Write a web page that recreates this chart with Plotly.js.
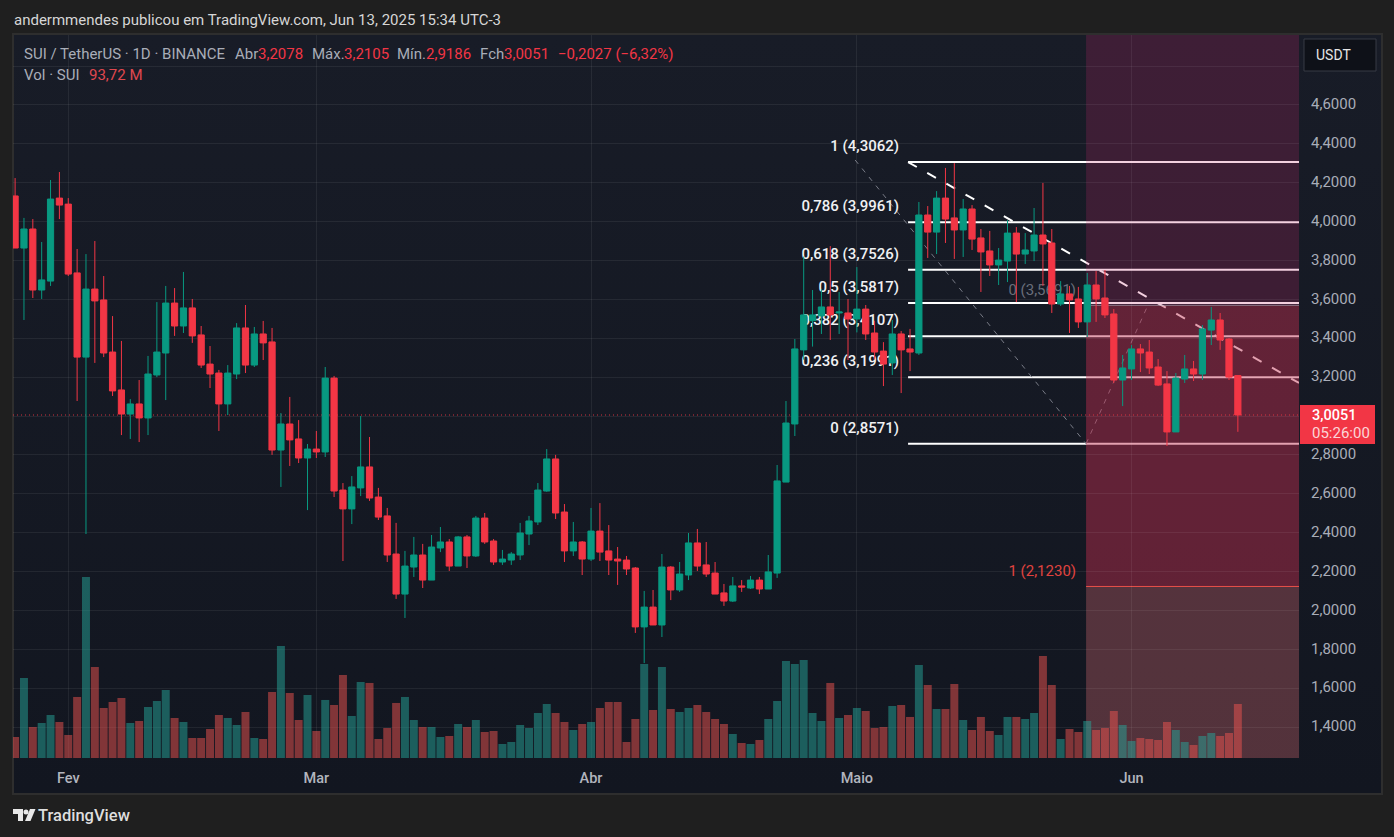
<!DOCTYPE html>
<html><head><meta charset="utf-8">
<script src="https://cdn.plot.ly/plotly-3.0.1.min.js"></script>
<style>
html,body{margin:0;padding:0;background:#1f1f1f;overflow:hidden;width:1394px;height:837px}
#frame{position:absolute;left:12px;top:33px;width:1367px;height:758px;border:2px solid #2e2e2e;background:linear-gradient(#181c27,#121620)}
#chart{position:absolute;left:0;top:0;width:1394px;height:837px}
</style></head><body>
<div id="frame"></div><div id="chart"></div>
<script>
const firstDay = Date.UTC(2025,0,26);
const opens = [4.132,3.864,3.962,3.648,3.694,4.121,4.090,3.736,3.303,3.653,3.597,3.329,3.134,3.010,3.062,2.990,3.211,3.324,3.581,3.463,
3.556,3.417,3.267,3.221,3.062,3.216,3.453,3.262,3.422,3.381,2.825,2.959,2.882,2.784,2.830,2.815,3.195,2.619,2.522,2.630,
2.738,2.583,2.486,2.290,2.084,2.223,2.285,2.156,2.321,2.352,2.228,2.378,2.280,2.475,2.357,2.249,2.259,2.285,2.393,2.455,
2.614,2.779,2.506,2.306,2.352,2.264,2.408,2.306,2.264,2.259,2.218,1.915,2.017,1.925,2.223,2.105,2.182,2.347,2.234,2.192,
2.090,2.048,2.126,2.115,2.156,2.110,2.192,2.660,2.959,3.340,3.490,3.515,3.561,3.530,3.530,3.499,3.550,3.427,3.334,3.273,
3.422,3.345,3.324,4.034,3.946,4.121,4.019,3.957,4.065,3.916,3.849,3.777,3.797,3.941,3.833,3.849,3.931,3.890,3.576,3.628,
3.602,3.484,3.674,3.607,3.525,3.185,3.242,3.345,3.329,3.252,3.165,2.918,3.190,3.242,3.216,3.442,3.494,3.396,3.2078];
const highs = [4.224,4.019,4.013,3.895,4.214,4.255,4.121,3.859,3.833,3.900,3.720,3.514,3.386,3.087,3.185,3.309,3.586,3.669,3.658,3.741,
3.602,3.463,3.360,3.237,3.262,3.478,3.571,3.458,3.489,3.453,3.015,3.098,2.979,2.856,2.923,3.252,3.206,2.655,2.691,3.000,
2.892,2.630,2.527,2.450,2.306,2.378,2.342,2.388,2.429,2.367,2.383,2.388,2.486,2.501,2.367,2.311,2.300,2.450,2.486,2.655,
2.830,2.800,2.547,2.455,2.357,2.527,2.552,2.439,2.326,2.280,2.223,2.100,2.105,2.290,2.228,2.249,2.398,2.419,2.352,2.249,
2.136,2.172,2.156,2.177,2.172,2.285,2.748,3.077,3.396,3.820,3.648,3.653,3.874,3.638,3.602,3.766,3.571,3.490,3.380,3.494,
3.437,3.448,4.101,4.080,4.157,4.276,4.301,4.116,4.085,3.962,3.952,3.864,4.008,3.972,3.941,4.070,4.199,3.962,3.694,3.669,
3.664,3.736,3.746,3.751,3.550,3.314,3.365,3.370,3.391,3.293,3.231,3.221,3.314,3.283,3.468,3.561,3.530,3.401,3.2105];
const lows = [3.864,3.494,3.607,3.602,3.669,4.013,3.720,3.077,2.393,3.273,3.303,3.103,2.902,2.882,2.866,2.902,3.200,3.082,3.412,3.427,
3.376,3.247,3.144,2.923,3.005,3.190,3.221,3.252,3.288,2.800,2.635,2.743,2.758,2.516,2.784,2.789,2.583,2.254,2.444,2.588,
2.563,2.465,2.249,2.059,1.961,2.172,2.115,2.156,2.300,2.203,2.228,2.218,2.275,2.342,2.234,2.234,2.234,2.259,2.336,2.439,
2.610,2.470,2.249,2.280,2.182,2.254,2.254,2.182,2.131,2.182,1.884,1.729,1.925,1.863,2.053,2.095,2.156,2.203,2.172,2.084,
2.023,2.043,2.095,2.110,2.084,2.110,2.167,2.660,2.897,3.290,3.357,3.422,3.391,3.422,3.288,3.430,3.391,3.290,3.154,3.211,
3.118,3.231,3.314,3.813,3.833,3.890,3.808,3.818,3.854,3.638,3.720,3.674,3.689,3.586,3.782,3.797,3.670,3.530,3.566,3.427,
3.453,3.406,3.484,3.504,3.170,3.051,3.185,3.226,3.216,3.154,2.846,2.918,3.170,3.180,3.185,3.365,3.340,3.185,2.9186];
const closes = [3.864,3.962,3.648,3.700,4.116,4.085,3.730,3.303,3.653,3.592,3.324,3.129,3.010,3.062,2.990,3.216,3.329,3.581,3.463,3.556,
3.412,3.262,3.216,3.062,3.221,3.453,3.262,3.422,3.376,2.825,2.959,2.877,2.784,2.830,2.815,3.195,2.614,2.522,2.635,2.738,
2.578,2.480,2.285,2.084,2.228,2.285,2.156,2.326,2.352,2.228,2.378,2.280,2.475,2.352,2.249,2.264,2.290,2.398,2.460,2.619,
2.779,2.501,2.306,2.352,2.264,2.408,2.300,2.259,2.254,2.213,1.915,2.017,1.925,2.223,2.105,2.187,2.347,2.228,2.187,2.084,
2.048,2.126,2.120,2.156,2.110,2.198,2.666,2.964,3.345,3.520,3.520,3.561,3.520,3.535,3.499,3.550,3.422,3.329,3.267,3.422,
3.340,3.329,4.034,3.946,4.121,4.013,3.957,4.065,3.910,3.844,3.777,3.802,3.941,3.833,3.854,3.931,3.885,3.576,3.628,3.597,
3.484,3.674,3.602,3.520,3.185,3.247,3.345,3.324,3.247,3.159,2.918,3.195,3.242,3.216,3.448,3.494,3.391,3.200,3.0051];
const volumes = [36.4,138.8,53.8,60.7,74.6,62.5,39.9,105.9,314.1,157.9,86.8,97.2,104.1,60.7,64.2,88.5,98.9,118.0,69.4,62.5,
34.7,34.7,50.3,74.6,69.4,57.3,79.8,34.7,33.0,114.5,194.4,112.8,65.9,109.3,46.9,100.7,92.0,144.0,72.9,131.9,
130.2,33.0,52.1,95.5,105.9,65.9,53.8,53.8,36.4,38.2,59.0,53.8,65.9,45.1,46.9,24.3,27.8,57.3,52.1,78.1,
93.7,78.1,62.5,48.6,59.0,62.5,86.8,97.2,97.2,27.8,67.7,163.1,83.3,157.9,85.0,79.8,86.8,92.0,79.8,67.7,
59.0,41.7,26.0,24.3,31.2,67.7,98.9,168.3,163.1,170.1,78.1,64.2,130.2,69.4,74.6,86.8,81.6,52.1,53.8,90.2,
92.0,71.2,161.4,126.7,85.0,85.0,128.4,65.9,48.6,71.2,46.9,39.9,71.2,71.2,67.7,78.1,177.0,126.7,33.0,50.3,
45.1,64.2,48.6,52.1,81.6,57.3,29.5,34.7,33.0,31.2,62.5,48.6,27.8,22.6,38.2,43.4,38.2,43.4,93.72];
const priceTicks = [1.4,1.6,1.8,2.0,2.2,2.4,2.6,2.8,3.0,3.2,3.4,3.6,3.8,4.0,4.2,4.4,4.6,4.8];
const priceLabels = ['1,4000','1,6000','1,8000','2,0000','2,2000','2,4000','2,6000','2,8000','','3,2000','3,4000','3,6000','3,8000','4,0000','4,2000','4,4000','4,6000',''];
const monthStarts = ['2025-02-01','2025-03-01','2025-04-01','2025-05-01','2025-06-01'];
const monthLabels = ['Fev','Mar','Abr','Maio','Jun'];
const fibLevels = [4.3062,3.9961,3.7526,3.5817,3.4107,3.1991,2.8571];
const fibLabels = ['1 (4,3062)','0,786 (3,9961)','0,618 (3,7526)','0,5 (3,5817)','0,382 (3,4107)','0,236 (3,1991)','0 (2,8571)'];
const legendTexts = ['SUI / TetherUS · 1D · BINANCE','Abr','3,2078','Máx.','3,2105','Mín.','2,9186','Fch','3,0051','−0,2027 (−6,32%)'];
const legendX = [23,234,257,311,343,396,425,479,503,557];
const legendRed = [false,false,true,false,true,false,true,false,true,true];

const dates = opens.map((_,i)=>new Date(firstDay+i*864e5).toISOString().slice(0,10));
const RANGE_X = ['2025-01-25 18:19','2025-06-19 21:36'];
const FONT = 'Roboto, sans-serif';
const TOP = 35, BOTTOM = 758, LEFT = 13, RIGHT = 1299;
const priceRange = [1.2407,4.9599];
const volRange = [0,1254.4];
const pxX = x => (x-LEFT)/(RIGHT-LEFT);
const pxY = y => (BOTTOM-y)/(BOTTOM-TOP);
const fibStart = '2025-05-06 18:43', fibLabelX = '2025-05-05 18:15';
const zoneStart = '2025-05-26 20:53', zoneLabelX = '2025-05-25 17:45';
const GREEN='#089981', RED='#f23645';
const labelShift = 14.8/194.4;

const traces = [
 {type:'scatter',mode:'text',x:fibLevels.map(()=>fibLabelX),y:fibLevels.map(v=>v+labelShift),text:fibLabels,
  textposition:'middle left',textfont:{family:FONT,size:15,color:'#f0f1f3',weight:500},hoverinfo:'skip',yaxis:'y'},
 {type:'scatter',mode:'text',x:[zoneLabelX],y:[2.197],text:['1 (2,1230)'],textposition:'middle left',
  textfont:{family:FONT,size:15,color:'#e0433f'},hoverinfo:'skip',yaxis:'y'},
 {type:'scatter',mode:'text',x:[zoneLabelX],y:[3.643],text:['0 (3,5691)'],textposition:'middle left',
  textfont:{family:FONT,size:15,color:'#6a6e7a'},hoverinfo:'skip',yaxis:'y'},
 {type:'bar',x:dates,y:volumes,yaxis:'y2',hoverinfo:'skip',
  marker:{color:closes.map((c,i)=>c>opens[i]?'rgba(38,166,154,.5)':'rgba(239,83,80,.5)'),line:{width:0}}},
 {type:'candlestick',x:dates,open:opens,high:highs,low:lows,close:closes,yaxis:'y3',hoverinfo:'skip',
  increasing:{line:{color:GREEN,width:1},fillcolor:GREEN},
  decreasing:{line:{color:RED,width:1},fillcolor:RED}}
];

const shapes = [];
fibLevels.forEach(v=>shapes.push({type:'line',layer:'below',xref:'x',yref:'y',x0:fibStart,x1:RANGE_X[1],y0:v,y1:v,line:{color:'#ffffff',width:2}}));
shapes.push({type:'line',layer:'below',xref:'x',yref:'y',x0:fibStart,x1:RANGE_X[1],y0:4.3062,y1:3.17,line:{color:'#ffffff',width:2,dash:'10px,12px'}});
shapes.push({type:'line',layer:'below',xref:'x',yref:'y',x0:'2025-04-30 19:12',x1:zoneStart,y0:4.317,y1:2.8571,line:{color:'#787b86',width:1,dash:'5px,6px'}});
shapes.push({type:'line',layer:'below',xref:'x',yref:'y',x0:zoneStart,x1:'2025-06-02 18:00',y0:2.8571,y1:3.56,line:{color:'#787b86',width:1,dash:'5px,6px'}});
shapes.push({type:'rect',layer:'below',xref:'x',yref:'y',x0:zoneStart,x1:RANGE_X[1],y0:3.5691,y1:priceRange[1],fillcolor:'rgba(200,40,110,.22)',line:{width:0}});
shapes.push({type:'rect',layer:'below',xref:'x',yref:'y',x0:zoneStart,x1:RANGE_X[1],y0:2.123,y1:3.5691,fillcolor:'rgba(192,46,80,.45)',line:{width:0}});
shapes.push({type:'rect',layer:'below',xref:'x',yref:'y',x0:zoneStart,x1:RANGE_X[1],y0:priceRange[0],y1:2.123,fillcolor:'rgba(207,103,113,.35)',line:{width:0}});
shapes.push({type:'line',layer:'below',xref:'x',yref:'y',x0:zoneStart,x1:RANGE_X[1],y0:2.123,y1:2.123,line:{color:'#e8504a',width:1}});
shapes.push({type:'line',layer:'below',xref:'x',yref:'y',x0:zoneStart,x1:RANGE_X[1],y0:3.5691,y1:3.5691,line:{color:'rgba(190,190,200,.55)',width:1}});
shapes.push({type:'line',layer:'below',xref:'x',yref:'y',x0:RANGE_X[0],x1:RANGE_X[1],y0:3.0051,y1:3.0051,line:{color:'rgba(242,54,69,.85)',width:1,dash:'1px,3px'}});
// price tag, currency button, logo
shapes.push({type:'rect',layer:'above',xref:'paper',yref:'paper',x0:pxX(1300),x1:pxX(1375),y0:pxY(444),y1:pxY(405),fillcolor:RED,line:{width:0}});
shapes.push({type:'rect',layer:'above',xref:'paper',yref:'paper',x0:pxX(1304),x1:pxX(1376),y0:pxY(71),y1:pxY(39),fillcolor:'#0e1118',line:{color:'#363a45',width:1}});
const pth = pts => 'M'+pts.map(p=>pxX(p[0])+','+pxY(p[1])).join(' L')+' Z';
shapes.push({type:'path',layer:'above',xref:'paper',yref:'paper',path:pth([[13,809],[23,809],[23,821],[18,821],[18,814],[13,814]]),fillcolor:'#e8e8e8',line:{width:0}});
shapes.push({type:'circle',layer:'above',xref:'paper',yref:'paper',x0:pxX(23.5),x1:pxX(28.5),y0:pxY(814.5),y1:pxY(809.5),fillcolor:'#e8e8e8',line:{width:0}});
shapes.push({type:'path',layer:'above',xref:'paper',yref:'paper',path:pth([[30,809],[35.5,809],[30.5,821],[25,821]]),fillcolor:'#e8e8e8',line:{width:0}});

const ann = (text,x,y,color,size,extra={}) => Object.assign({text,xref:'paper',yref:'paper',x:pxX(x),y:pxY(y),xanchor:'left',yanchor:'middle',showarrow:false,borderpad:0,
  font:{family:FONT,size,color}},extra);
const annotations = [
 ann('andermmendes publicou em TradingView.com, Jun 13, 2025 15:34 UTC-3',13,20,'#d6d6d6',15),
 ...legendTexts.map((t,i)=>ann(t,legendX[i],54,legendRed[i]?RED:'#a9adb8',15)),
 ann('Vol · SUI',23,75,'#a9adb8',15),
 ann('93,72 M',88,75,'#e0484f',15),
 ann('3,0051',1311,415,'#ffffff',14.5,{font:{family:FONT,size:14.5,color:'#ffffff',weight:500}}),
 ann('05:26:00',1311,433,'#fbd5d8',15),
 ann('USDT',1315,55,'#e6e6e6',14),
 ann('TradingView',37,815.5,'#dedede',16.5,{font:{family:FONT,size:16.5,color:'#dedede',weight:500}})
];

const GRID='rgba(242,242,242,.07)';
const layout = {
 width:1394,height:837,autosize:false,showlegend:false,separators:',.',
 margin:{l:LEFT,r:1394-RIGHT,t:TOP,b:837-BOTTOM,pad:0},
 paper_bgcolor:'rgba(0,0,0,0)',plot_bgcolor:'rgba(0,0,0,0)',
 font:{family:FONT,color:'#b2b5be'},
 bargap:0.1,boxmode:'overlay',boxgap:0.3,boxgroupgap:0,
 xaxis:{type:'date',range:RANGE_X,tickmode:'array',tickvals:monthStarts,ticktext:monthLabels,
  showgrid:true,gridcolor:GRID,gridwidth:1,zeroline:false,showline:false,ticks:'outside',ticklen:7,tickcolor:'rgba(0,0,0,0)',
  tickfont:{family:FONT,size:14.5,color:'#b2b5be',weight:500},rangeslider:{visible:false},fixedrange:true},
 yaxis:{range:priceRange,side:'right',tickmode:'array',tickvals:priceTicks,ticktext:priceLabels,
  showgrid:true,gridcolor:GRID,gridwidth:1,zeroline:false,showline:false,ticks:'outside',ticklen:8,tickcolor:'rgba(0,0,0,0)',
  tickfont:{family:FONT,size:15,color:'#a9adb8'},ticklabelshift:-1,fixedrange:true},
 yaxis2:{range:volRange,overlaying:'y',visible:false,fixedrange:true},
 yaxis3:{range:priceRange,overlaying:'y',visible:false,fixedrange:true},
 shapes,annotations
};
Plotly.newPlot('chart',traces,layout,{displayModeBar:false,staticPlot:true});
</script></body></html>
